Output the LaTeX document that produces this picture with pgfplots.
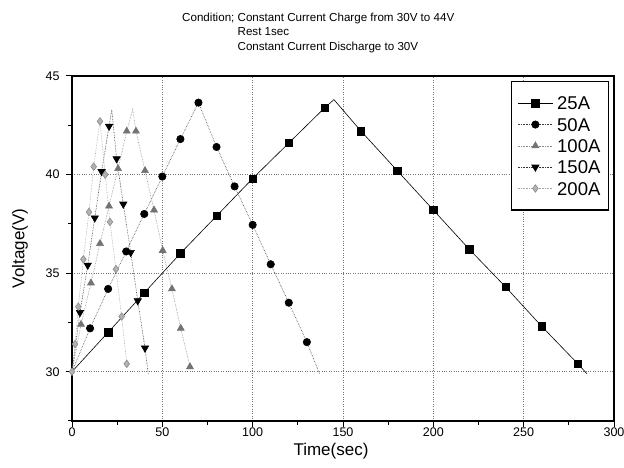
\documentclass[border=0pt]{standalone}
\usepackage{pgfplots}
\pgfplotsset{compat=1.18}
\usepackage{fontspec}
\setmainfont{Liberation Sans}
\begin{document}
\begin{tikzpicture}
\path[use as bounding box] (0pt,0pt) rectangle (624pt,468pt);
\node[anchor=north west, inner sep=0pt, font=\fontsize{11.6}{14.5}\selectfont] at (182pt,457pt)
 {\begin{tabular}{@{}l@{ }l@{}}
 Condition; & Constant Current Charge from 30V to 44V\\
  & Rest 1sec\\
  & Constant Current Discharge to 30V
 \end{tabular}};
\begin{axis}[
  at={(72pt,47pt)}, anchor=south west,
  scale only axis, width=542pt, height=345pt,
  xmin=0, xmax=300, ymin=27.5, ymax=45,
  xtick={0,50,...,300}, ytick={30,35,40,45},
  minor xtick={25,75,...,275}, minor ytick={27.5,32.5,37.5,42.5},
  tick pos=left, tick align=outside,
  major tick length=6pt, minor tick length=4pt,
  every tick/.style={black, line width=1pt},
  axis line style={line width=1.6pt},
  grid=major, major grid style={black!55, dotted, line width=0.6pt},
  /pgf/number format/assume math mode=true,
  ticklabel style={font=\fontsize{12.5}{14}\selectfont},
  xticklabel style={yshift=2.5pt},
  yticklabel style={xshift=-3pt},
  xlabel={Time(sec)}, ylabel={Voltage(V)},
  label style={font=\fontsize{17}{19}\selectfont},
  xlabel style={at={(axis description cs:0.5,0)}, anchor=north, yshift=-22pt, xshift=-12pt, inner sep=0pt},
  ylabel style={at={(axis description cs:-0.096,0.5)}, anchor=center, rotate=0},
  legend style={at={(1,1)}, xshift=-5pt, yshift=-5pt, anchor=north east,
    font=\fontsize{18.5}{21}\selectfont,
    draw=black, line width=1.2pt, row sep=4pt, column sep=2pt, inner xsep=6pt, inner ysep=13pt,
    nodes={inner sep=2pt, text height=13.3pt, text depth=0pt}},
  legend cell align=left,
  legend image code/.code={\draw[#1, mark indices={2}] plot coordinates {(0pt,0pt) (17.5pt,0pt) (35pt,0pt)};},
]
\addplot[black, line width=0.6pt, mark=square*, mark size=3.7pt, mark options={solid, fill=black},
  mark indices={2,3,4,5,6,7,8,10,11,12,13,14,15,16}] coordinates {
 (0,30) (20,32) (40,34) (60,36) (80,37.9) (100,39.8) (120,41.6) (140,43.4) (145,43.8)
 (160,42.2) (180,40.2) (200,38.2) (220,36.2) (240,34.3) (260,32.3) (280,30.4) (285,29.9)};
\addlegendentry{25A}
\addplot[black!75, densely dotted, line width=0.6pt, mark=*, mark size=3.7pt, mark options={solid, fill=black, draw=black},
  mark indices={2,3,4,5,6,7,8,9,10,11,12,13,14}] coordinates {
 (0,30) (10,32.2) (20,34.2) (30,36.1) (40,38.0) (50,39.9) (60,41.8) (70,43.65)
 (80,41.4) (90,39.4) (100,37.45) (110,35.45) (120,33.5) (130,31.5) (137,29.9)};
\addlegendentry{50A}
\addplot[black!45, densely dotted, line width=0.6pt, mark=triangle*, mark size=4pt, mark options={solid, fill=black!55, draw=black!55},
  mark indices={2,3,4,5,6,7,9,10,11,12,13,14,15}] coordinates {
 (0,30) (5,32.4) (10.5,34.5) (15.5,36.5) (20.5,38.4) (25.5,40.3) (30.3,42.2) (33.6,43.3)
 (35.4,42.2) (40.4,40.2) (45.4,38.2) (50.2,36.15) (55.3,34.2) (60.2,32.2) (65.3,30.25)};
\addlegendentry{100A}
\addplot[black!80, densely dotted, line width=0.6pt, mark=triangle*, mark size=4.2pt, mark options={solid, fill=black, draw=black, rotate=180},
  mark indices={2,3,4,5,6,8,9,10,11,12}] coordinates {
 (0,30) (4.4,33.0) (8.7,35.4) (12.6,37.8) (16.4,40.15) (20.5,42.45) (22,43.3)
 (24.7,40.8) (28.4,38.5) (32.5,36.05) (36.4,33.6) (40.4,31.2) (42.2,29.9)};
\addlegendentry{150A}
\addplot[black!35, densely dotted, line width=0.6pt, mark=diamond*, mark size=3.8pt, mark options={solid, fill=black!30, draw=black!45}]
 coordinates {
 (0,30) (1.7,31.4) (3.5,33.3) (6.3,35.7) (9.4,38.1) (12,40.4) (15.5,42.7)
 (18.4,40.0) (21,37.6) (24.3,35.2) (27.5,32.8) (30.3,30.4)};
\addlegendentry{200A}
\end{axis}
\end{tikzpicture}
\end{document}
